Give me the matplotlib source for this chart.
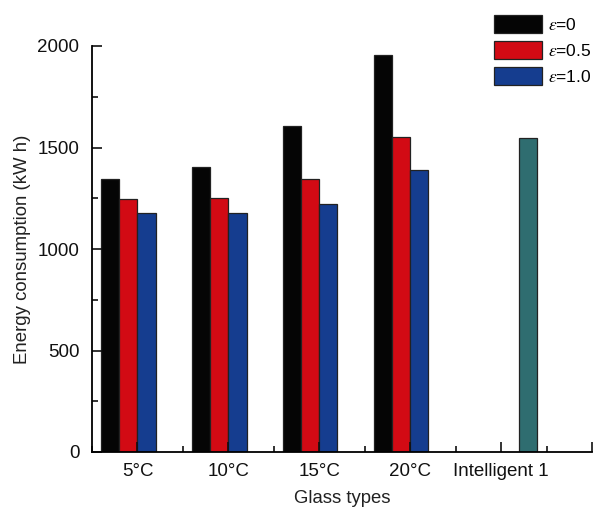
import numpy as np
import matplotlib
matplotlib.use("Agg")
import matplotlib.pyplot as plt
from matplotlib.ticker import MultipleLocator

plt.rcParams['font.family'] = ['Liberation Sans', 'DejaVu Sans']
plt.rcParams['mathtext.fontset'] = 'stix'

# Energy consumption per glass type (kW h)
glass_types = ['5°C', '10°C', '15°C', '20°C', 'Intelligent 1']
eps_0 = [1345, 1404, 1604, 1954]
eps_05 = [1245, 1250, 1347, 1552]
eps_10 = [1179, 1179, 1222, 1391]
intelligent = [1545]
series_labels = [r'$\varepsilon$=0', r'$\varepsilon$=0.5', r'$\varepsilon$=1.0']

fig = plt.figure(figsize=(5.95, 5.15), dpi=100)
ax = fig.add_axes([92 / 595, 1 - 452 / 515, 500 / 595, 406 / 515])

x = np.arange(1, len(glass_types) + 1)
w = 0.2
edge = dict(edgecolor='#222222', linewidth=0.9)
b0 = ax.bar(x[:4] - 1.5 * w, eps_0, w, color='#050505', label=series_labels[0], **edge)
b1 = ax.bar(x[:4] - 0.5 * w, eps_05, w, color='#d20a14', label=series_labels[1], **edge)
b2 = ax.bar(x[:4] + 0.5 * w, eps_10, w, color='#153d8f', label=series_labels[2], **edge)
ax.bar(x[4:] + 1.5 * w, intelligent, w, color='#2f6d70', **edge)

ax.set_xlim(0.5, 6.0)
ax.set_ylim(0, 2000)
ax.set_xticks(list(x) + [6])
ax.set_xticklabels(glass_types + [''])
ax.xaxis.set_minor_locator(MultipleLocator(0.5))
ax.yaxis.set_major_locator(MultipleLocator(500))
ax.yaxis.set_minor_locator(MultipleLocator(250))
ax.tick_params(which='both', direction='in', width=1.2, labelsize=13.5, colors='#111111')
ax.tick_params(which='major', length=7)
ax.tick_params(which='minor', length=4)
ax.tick_params(axis='x', pad=8)
ax.tick_params(axis='y', pad=9)

for s in ['top', 'right']:
    ax.spines[s].set_visible(False)
for s in ['left', 'bottom']:
    ax.spines[s].set_linewidth(1.3)

ax.set_xlabel('Glass types', fontsize=13.3, labelpad=7, color='#222222')
ax.set_ylabel('Energy consumption (kW h)', fontsize=13.4, labelpad=5, color='#222222')

fig.legend(handles=[b0, b1, b2], loc='upper left', bbox_to_anchor=(485 / 595, 1 - 6 / 515),
           frameon=False, fontsize=12.5, handlelength=2.8, handleheight=1.25,
           handletextpad=0.35, labelspacing=0.45, borderpad=0)

fig.savefig('out.png', dpi=100)
